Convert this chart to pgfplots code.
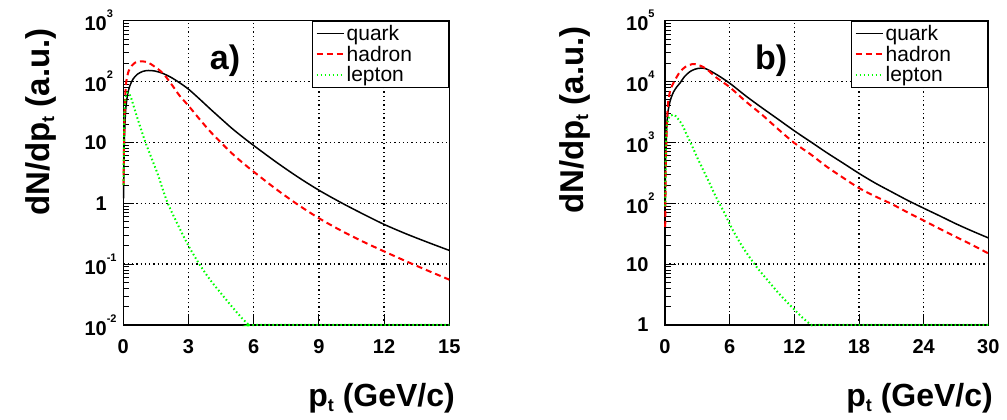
\documentclass[border=0pt]{standalone}
\usepackage{pgfplots}
\pgfplotsset{compat=1.18}
\usepackage{fontspec}
\setmainfont{Liberation Sans}
\definecolor{rred}{RGB}{255,0,0}
\definecolor{rgreen}{RGB}{0,255,0}
\newcommand{\tp}[1]{10\rlap{\raisebox{13pt}{\fontsize{11}{11}\selectfont #1}}}
\newcommand{\subt}{\raisebox{-5pt}{\fontsize{18}{18}\selectfont t}}
\pgfplotsset{legend image code/.code={\draw[#1] (0pt,0pt) -- (27pt,0pt);}}
\begin{document}
\begin{tikzpicture}
\useasboundingbox (0,0) rectangle (1007pt,420pt);
% ---------------- panel a
\begin{axis}[scale only axis, width=326pt, height=304.3pt, anchor=south west, at={(123.3pt,95pt)},
  ymode=log, clip=false,
  axis line style={line width=1.3pt},
  tick align=inside, xtick pos=bottom, ytick pos=left,
  major tick length=11pt, minor tick length=6pt,
  every tick/.style={black, line width=0.9pt},
  grid=major, major grid style={black, line width=1.3pt, dash pattern=on 1.3pt off 3pt},
  xticklabel style={font=\fontsize{20}{20}\selectfont\bfseries, yshift=-11pt},
  yticklabel style={font=\fontsize{20}{20}\selectfont\bfseries, xshift=-13pt},
  legend style={at={(1,1)}, anchor=north east, draw=black, line width=1.3pt, fill=white,
    font=\fontsize{21}{20}\selectfont, inner xsep=3pt, inner ysep=2pt, row sep=0pt,
    cells={anchor=west}},
  xmin=0, xmax=15, xtick={0,3,6,9,12,15}, xticklabels={0,3,6,9,12,15},
  ymin=1e-2, ymax=1e3, ytick={0.01,0.1,1,10,100,1000},
  yticklabels={\tp{-2},\tp{-1},1,10,\tp{2},\tp{3}},
  minor ytick={0.02,0.03,0.04,0.05,0.06,0.07,0.08,0.09,0.2,0.3,0.4,0.5,0.6,0.7,0.8,0.9,2,3,4,5,6,7,8,9,20,30,40,50,60,70,80,90,200,300,400,500,600,700,800,900}]
\addplot[black, line width=1.5pt, smooth] coordinates {(0.01,1.2) (0.04,8) (0.08,22) (0.12,38) (0.2,62) (0.3,85) (0.45,110) (0.65,132) (0.9,147) (1.15,152) (1.45,149) (1.8,137) (2.2,117) (2.6,95) (3,75) (3.5,52) (4,35.5) (4.5,24.5) (5,17) (5.5,12.2) (6,8.9) (7,4.85) (8,2.75) (9,1.64) (10,1.035) (11,0.675) (12,0.45) (13,0.316) (14,0.229) (15,0.168)};
\addlegendentry{\makebox[97pt][l]{\strut quark}}
\addplot[rred, line width=2pt, dash pattern=on 6pt off 4pt, smooth] coordinates {(0.01,2) (0.05,20) (0.1,70) (0.15,107) (0.25,150) (0.38,180) (0.55,205) (0.77,215) (1.0,212) (1.2,200) (1.4,180) (1.7,150) (1.92,125) (2.3,82) (2.6,58) (3,40) (3.5,24.3) (4,15.1) (4.5,9.9) (5,6.6) (5.5,4.6) (6,3.3) (7,1.74) (8,0.966) (9,0.569) (10,0.359) (11,0.237) (12,0.162) (13,0.112) (14,0.0785) (15,0.0556)};
\addlegendentry{\makebox[97pt][l]{\strut hadron}}
\addplot[rgreen, line width=2pt, dash pattern=on 1.5pt off 2.5pt, smooth] coordinates {(0.01,2) (0.04,20) (0.08,45) (0.15,62) (0.23,66) (0.35,55) (0.5,37) (0.7,22) (1.0,10.5) (1.3,5.5) (1.6,2.9) (2.0,1.1) (2.5,0.45) (3.0,0.2) (3.5,0.1) (4.0,0.055) (4.5,0.033) (5.0,0.02) (5.5,0.0125) (5.8,0.01) (6,0.01) (9,0.01) (12,0.01) (15,0.01)};
\addlegendentry{\makebox[97pt][l]{\strut lepton}}
\node[anchor=base, font=\fontsize{34}{34}\selectfont\bfseries, inner sep=0] at (rel axis cs:0.312,0.838) {a)};
\end{axis}
% ---------------- panel b
\begin{axis}[scale only axis, width=323.3pt, height=304.3pt, anchor=south west, at={(665pt,95pt)},
  ymode=log, clip=false,
  axis line style={line width=1.3pt},
  tick align=inside, xtick pos=bottom, ytick pos=left,
  major tick length=11pt, minor tick length=6pt,
  every tick/.style={black, line width=0.9pt},
  grid=major, major grid style={black, line width=1.3pt, dash pattern=on 1.3pt off 3pt},
  xticklabel style={font=\fontsize{20}{20}\selectfont\bfseries, yshift=-11pt},
  yticklabel style={font=\fontsize{20}{20}\selectfont\bfseries, xshift=-13pt},
  legend style={at={(1,1)}, anchor=north east, draw=black, line width=1.3pt, fill=white,
    font=\fontsize{21}{20}\selectfont, inner xsep=3pt, inner ysep=2pt, row sep=0pt,
    cells={anchor=west}},
  xmin=0, xmax=30, xtick={0,6,12,18,24,30}, xticklabels={0,6,12,18,24,30},
  ymin=1, ymax=1e5, ytick={1,10,100,1000,10000,100000},
  yticklabels={1,10,\tp{2},\tp{3},\tp{4},\tp{5}},
  minor ytick={2,3,4,5,6,7,8,9,20,30,40,50,60,70,80,90,200,300,400,500,600,700,800,900,2000,3000,4000,5000,6000,7000,8000,9000,20000,30000,40000,50000,60000,70000,80000,90000}]
\addplot[black, line width=1.5pt, smooth] coordinates {(0.02,100) (0.05,400) (0.1,900) (0.15,1600) (0.2,2300) (0.3,3400) (0.45,4600) (0.6,5600) (0.8,6800) (1.1,8200) (1.4,9500) (1.8,12000) (2.3,14500) (2.8,16000) (3.3,16600) (3.8,16200) (4.8,13000) (6,9400) (7.5,5800) (9,3700) (10.5,2400) (12,1550) (13.6,1000) (15,680) (16.5,460) (18,310) (19.5,215) (21,155) (22.5,112) (24,83) (25.5,62) (27,46) (28.5,35) (30,27)};
\addlegendentry{\makebox[97pt][l]{\strut quark}}
\addplot[rred, line width=2pt, dash pattern=on 6pt off 4pt, smooth] coordinates {(0.02,41) (0.06,250) (0.1,700) (0.2,2500) (0.3,4700) (0.5,7300) (0.77,9400) (1.1,12000) (1.4,14500) (1.9,17500) (2.5,19300) (3.0,19000) (3.8,16300) (4.8,11500) (6,8100) (7.5,4700) (9,2850) (10.5,1650) (12,980) (13.5,640) (15,400) (16.5,265) (18,178) (19.5,130) (21,98) (22.5,71) (24,52) (25.5,38) (27,28) (28.5,20.7) (30,15)};
\addlegendentry{\makebox[97pt][l]{\strut hadron}}
\addplot[rgreen, line width=2pt, dash pattern=on 1.5pt off 2.5pt, smooth] coordinates {(0.02,90) (0.08,700) (0.15,1700) (0.3,2400) (0.5,2750) (0.75,2850) (1.0,2700) (1.4,2200) (1.7,1800) (2.0,1350) (2.4,970) (3,560) (4,240) (4.8,120) (5.5,70) (6.3,36) (7.3,18) (8.5,9) (9.5,5.5) (10.5,3.4) (11.3,2.4) (12,1.8) (12.8,1.3) (13.6,1) (14,1) (18,1) (24,1) (30,1)};
\addlegendentry{\makebox[97pt][l]{\strut lepton}}
\node[anchor=base, font=\fontsize{34}{34}\selectfont\bfseries, inner sep=0] at (rel axis cs:0.328,0.838) {b)};
\end{axis}
% ---------------- axis titles
\node[rotate=90, anchor=base east, inner sep=0, font=\fontsize{33}{33}\selectfont\bfseries] at (49pt,392pt) {dN/dp\subt{} (a.u.)};
\node[rotate=90, anchor=base east, inner sep=0, font=\fontsize{33}{33}\selectfont\bfseries] at (583pt,394pt) {dN/dp\subt{} (a.u.)};
\node[anchor=base east, inner sep=0, font=\fontsize{32}{32}\selectfont\bfseries] at (455pt,13.3pt) {p\subt{} (GeV/c)};
\node[anchor=base east, inner sep=0, font=\fontsize{32}{32}\selectfont\bfseries] at (993pt,13.3pt) {p\subt{} (GeV/c)};
\end{tikzpicture}
\end{document}
